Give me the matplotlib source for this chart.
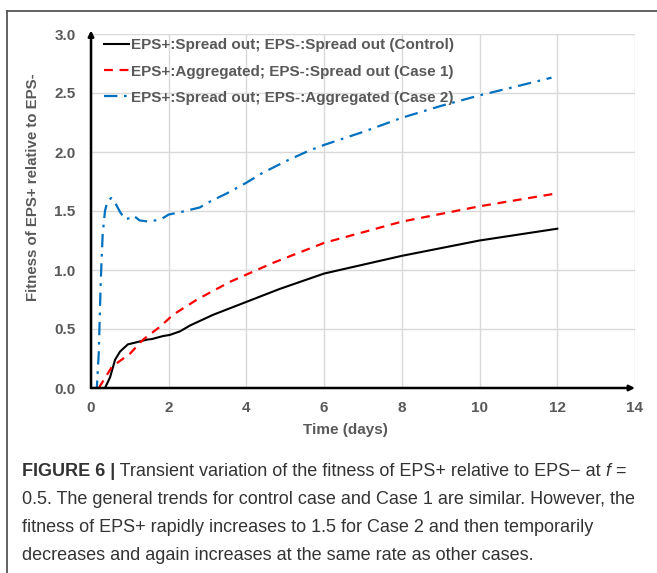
import matplotlib
matplotlib.use("Agg")
import matplotlib.pyplot as plt
from matplotlib.lines import Line2D

# ---- data ----
t_control = [0.36, 0.49, 0.62, 0.75, 0.95, 1.08, 1.44, 1.57, 1.85, 2.03, 2.29, 2.55, 3.14, 4.0, 4.86, 6.0, 8.0, 10.0, 12.0]
v_control = [0.0, 0.09, 0.24, 0.31, 0.37, 0.38, 0.41, 0.415, 0.44, 0.45, 0.48, 0.53, 0.62, 0.73, 0.84, 0.97, 1.12, 1.25, 1.35]

t_case1 = [0.2, 0.36, 0.54, 0.83, 1.0, 1.34, 1.78, 2.11, 2.73, 3.58, 4.68, 6.0, 8.0, 10.0, 12.0]
v_case1 = [0.0, 0.085, 0.18, 0.25, 0.29, 0.41, 0.52, 0.62, 0.75, 0.9, 1.06, 1.23, 1.41, 1.54, 1.65]

t_case2 = [0.0, 0.15, 0.2, 0.25, 0.3, 0.36, 0.42, 0.52, 0.62, 0.75, 0.88, 1.0, 1.1, 1.25, 1.5, 1.8, 2.0, 2.3, 2.8,
           3.0, 3.5, 4.0, 4.4, 5.0, 5.6, 6.0, 7.0, 8.0, 9.0, 10.0, 11.0, 11.85]
v_case2 = [0.0, 0.0, 0.3, 0.9, 1.3, 1.5, 1.58, 1.61, 1.57, 1.49, 1.43, 1.44, 1.46, 1.42, 1.41, 1.43, 1.47, 1.49, 1.53,
           1.57, 1.65, 1.74, 1.82, 1.92, 2.01, 2.06, 2.17, 2.29, 2.39, 2.48, 2.56, 2.63]

labels = ["EPS+:Spread out; EPS-:Spread out (Control)",
          "EPS+:Aggregated; EPS-:Spread out (Case 1)",
          "EPS+:Spread out; EPS-:Aggregated (Case 2)"]
x_ticks = [0, 2, 4, 6, 8, 10, 12, 14]
y_ticks = [0.0, 0.5, 1.0, 1.5, 2.0, 2.5, 3.0]
x_label = "Time (days)"
y_label = "Fitness of EPS+ relative to EPS-"

GRAY = "#595959"
W, H = 657, 573
fig = plt.figure(figsize=(W / 100, H / 100), dpi=100)
plt.rcParams['font.family'] = ['Liberation Sans', 'DejaVu Sans']

ax = fig.add_axes([91 / W, 1 - 388 / H, (635 - 91) / W, (388 - 34) / H])
ax.set_xlim(0, 14)
ax.set_ylim(0, 3.0)

ax.plot(t_control, v_control, color="black", lw=1.5, label=labels[0])
ax.plot(t_case1, v_case1, color="#FF0000", lw=1.6, ls=(0, (4, 3)), label=labels[1])
ax.plot(t_case2, v_case2, color="#0070C0", lw=1.6, ls=(0, (6, 3, 1.2, 3)), label=labels[2])

ax.set_xticks(x_ticks)
ax.set_yticks(y_ticks)
ax.set_xticklabels([str(v) for v in x_ticks])
ax.set_yticklabels([f"{v:.1f}" for v in y_ticks])
ax.tick_params(length=0, labelsize=11, labelcolor=GRAY)
ax.tick_params(axis="x", pad=9)
ax.tick_params(axis="y", pad=11)
for lab in ax.get_xticklabels() + ax.get_yticklabels():
    lab.set_fontweight("bold")
ax.grid(True, color="#D9D9D9", lw=1)
ax.set_axisbelow(True)
for s in ax.spines.values():
    s.set_visible(False)

# axis arrows
ax.annotate("", xy=(1.0, 0), xytext=(0, 0), xycoords="axes fraction",
            arrowprops=dict(arrowstyle="-|>", color="black", lw=1.8, mutation_scale=8, shrinkA=0, shrinkB=0))
ax.annotate("", xy=(0, 1.01), xytext=(0, 0), xycoords="axes fraction",
            arrowprops=dict(arrowstyle="-|>", color="black", lw=1.8, mutation_scale=8, shrinkA=0, shrinkB=0))

leg = ax.legend(loc="upper left", bbox_to_anchor=(0.013, 1.005), frameon=False, fontsize=11,
                handlelength=1.6, handletextpad=0.15, labelspacing=0.8, borderaxespad=0)
for txt in leg.get_texts():
    txt.set_color(GRAY)
    txt.set_fontweight("bold")

fig.text(345 / W, 1 - 430 / H, x_label, ha="center", va="center", fontsize=11,
         fontweight="bold", color=GRAY)
fig.text(33 / W, 1 - 187 / H, y_label, ha="center", va="center", rotation=90,
         fontsize=10.8, fontweight="bold", color=GRAY)

# outer frame (left and top borders)
fig.add_artist(Line2D([7 / W, 7 / W], [0, 1 - 11 / H], color="#555555", lw=1.3))
fig.add_artist(Line2D([7 / W, 1], [1 - 11 / H, 1 - 11 / H], color="#555555", lw=1.3))

# caption
CAP = "#333333"
cap_size = 13.0
renderer = fig.canvas.get_renderer()
caption_lines = [
    [("FIGURE 6 |", "bold", "normal"), (" Transient variation of the fitness of EPS+ relative to EPS\u2212 at ", "normal", "normal"),
     ("f", "normal", "italic"), (" =", "normal", "normal")],
    [("0.5. The general trends for control case and Case 1 are similar. However, the", "normal", "normal")],
    [("fitness of EPS+ rapidly increases to 1.5 for Case 2 and then temporarily", "normal", "normal")],
    [("decreases and again increases at the same rate as other cases.", "normal", "normal")],
]
y0 = 471
for i, parts in enumerate(caption_lines):
    x = 22
    y = y0 + i * 28
    for s, wgt, sty in parts:
        t = fig.text(x / W, 1 - y / H, s, ha="left", va="center", fontsize=cap_size,
                     fontweight=wgt, fontstyle=sty, color=CAP)
        bb = t.get_window_extent(renderer=renderer)
        x += bb.width

fig.savefig("out.png", dpi=100)
